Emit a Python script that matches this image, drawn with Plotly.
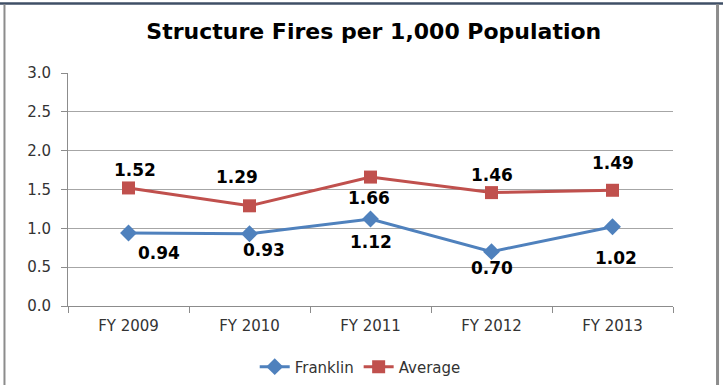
import plotly.graph_objects as go

categories = ["FY 2009", "FY 2010", "FY 2011", "FY 2012", "FY 2013"]
franklin = [0.94, 0.93, 1.12, 0.70, 1.02]
average = [1.52, 1.29, 1.66, 1.46, 1.49]
y_ticks = [0.0, 0.5, 1.0, 1.5, 2.0, 2.5, 3.0]

# label offsets (pixels) – styling only
fr_shift = [(30, -20), (14, -16), (0, -23), (0, -16), (3, -31)]
av_shift = [(6, 18), (-13, 29), (-2, -21), (0, 18), (0, 27)]

BLUE = "#4F81BD"
RED = "#C0504D"
FONT = "DejaVu Sans"

fig = go.Figure()
fig.add_trace(go.Scatter(
    x=categories, y=franklin, name="Franklin", mode="lines+markers",
    line=dict(color=BLUE, width=3),
    marker=dict(symbol="diamond", size=13, color=BLUE),
))
fig.add_trace(go.Scatter(
    x=categories, y=average, name="Average", mode="lines+markers",
    line=dict(color=RED, width=3),
    marker=dict(symbol="square", size=13, color=RED),
))

annotations = []
for c, v, (dx, dy) in zip(categories, franklin, fr_shift):
    annotations.append(dict(x=c, y=v, text=f"<b>{v:.2f}</b>", showarrow=False,
                            xshift=dx, yshift=dy,
                            font=dict(family=FONT, size=17, color="#000000")))
for c, v, (dx, dy) in zip(categories, average, av_shift):
    annotations.append(dict(x=c, y=v, text=f"<b>{v:.2f}</b>", showarrow=False,
                            xshift=dx, yshift=dy,
                            font=dict(family=FONT, size=17, color="#000000")))

shapes = [
    # outer frame
    dict(type="line", xref="paper", yref="paper", x0=-0.115, x1=1.1, y0=1.298, y1=1.298,
         line=dict(color="#3F4F66", width=2.5)),
    dict(type="line", xref="paper", yref="paper", x0=-0.105, x1=-0.105, y0=1.295, y1=-0.36,
         line=dict(color="#8C8C8C", width=2)),
    dict(type="line", xref="paper", yref="paper", x0=1.0736, x1=1.0736, y0=1.295, y1=-0.36,
         line=dict(color="#8C8C8C", width=3)),
]

fig.update_layout(
    width=723, height=385,
    margin=dict(l=68, r=50, t=73, b=79, autoexpand=False),
    paper_bgcolor="white", plot_bgcolor="white",
    title=dict(text="<b>Structure Fires per 1,000 Population</b>", x=0.517, xanchor="center",
               y=0.919, yanchor="middle",
               font=dict(family=FONT, size=22, color="#000000")),
    font=dict(family=FONT, size=15, color="#404040"),
    xaxis=dict(
        type="category", showgrid=False, showline=True, linecolor="#8C8C8C", linewidth=1,
        ticks="outside", ticklen=6, tickcolor="#8C8C8C", tickson="boundaries",
        tickfont=dict(family=FONT, size=15, color="#333333"), ticklabelstandoff=6,
        range=[-0.5, 4.5], fixedrange=True, automargin=False,
    ),
    yaxis=dict(
        range=[0, 3.0], tickvals=y_ticks, ticktext=[f"{t:.1f}" for t in y_ticks],
        showgrid=True, gridcolor="#A6A6A6", gridwidth=1, zeroline=False,
        showline=True, linecolor="#8C8C8C", linewidth=1,
        ticks="outside", ticklen=6, tickcolor="#8C8C8C", ticklabelstandoff=7,
        tickfont=dict(family=FONT, size=15, color="#333333"), automargin=False,
    ),
    legend=dict(orientation="h", x=0.483, xanchor="center", yref="container",
                y=0.047, yanchor="middle",
                font=dict(family=FONT, size=15, color="#333333"), itemwidth=30,
                tracegroupgap=0),
    annotations=annotations,
    shapes=shapes,
    showlegend=True,
)

fig.write_html(
    "out.html",
    config={"displayModeBar": False},
    post_script="document.body.style.margin='0';document.body.style.overflow='hidden';",
)
